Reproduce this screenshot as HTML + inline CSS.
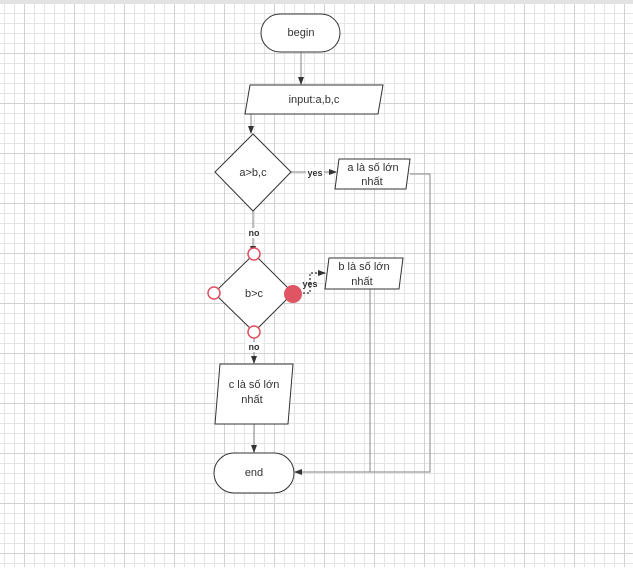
<!DOCTYPE html>
<html><head><style>
body{margin:0;width:633px;height:567px;overflow:hidden;background:#fff;font-family:"Liberation Sans",sans-serif;}
</style></head><body>
<svg width="633" height="567" xmlns="http://www.w3.org/2000/svg" font-family="Liberation Sans, sans-serif">
<defs>
<pattern id="g" x="4" y="3" width="10" height="10" patternUnits="userSpaceOnUse"><path d="M0 0.5H10M0.5 0V10" stroke="#e4e4e4" stroke-width="1" fill="none"/></pattern>
<pattern id="G" x="24" y="3" width="50" height="50" patternUnits="userSpaceOnUse"><path d="M0 0.5H50M0.5 0V50" stroke="#d2d2d2" stroke-width="1" fill="none"/></pattern>
<marker id="a" markerWidth="8" markerHeight="8" refX="7" refY="4" orient="auto" markerUnits="userSpaceOnUse"><path d="M0 1L8 4L0 7Z" fill="#333"/></marker>
</defs>
<rect width="633" height="567" fill="url(#g)"/>
<rect width="633" height="567" fill="url(#G)"/>
<rect width="633" height="4" fill="#e2e2e2"/>
<g stroke="#999" stroke-width="1.2" fill="none">
<path d="M301 52V84" marker-end="url(#a)"/>
<path d="M251 114V133" marker-end="url(#a)"/>
<path d="M291 172H336" marker-end="url(#a)"/>
<path d="M253 211V253" marker-end="url(#a)"/>
<path d="M410 174H430V472H295" marker-end="url(#a)"/>
<path d="M370 289V472"/>
<path d="M254 332V363" marker-end="url(#a)"/>
<path d="M254 424V452" marker-end="url(#a)"/>
<path d="M303 293H310V273H325" stroke-dasharray="2,2" stroke="#333" marker-end="url(#a)"/>
</g>
<g stroke="#333" stroke-width="1" fill="#fff">
<rect x="261" y="14" width="79" height="38" rx="19"/>
<path d="M250 85H383L378 114H245Z"/>
<path d="M253 134L291 172L253 211L215 172Z"/>
<path d="M339 159H410L406 189H335Z"/>
<path d="M254 254L293 293L254 332L214 293Z"/>
<path d="M329 258H403L399 289H325Z"/>
<path d="M220 364H293L288 424H215Z"/>
<rect x="214" y="453" width="80" height="40" rx="20"/>
</g>
<g stroke="#e05060" stroke-width="1.5" fill="#fff">
<circle cx="254" cy="254" r="6"/><circle cx="214" cy="293" r="6"/><circle cx="254" cy="332" r="6"/>
</g>
<circle cx="293" cy="294" r="9" fill="#e05563"/>
<g font-size="11" fill="#333" text-anchor="middle">
<text x="301" y="36">begin</text>
<text x="314" y="103">input:a,b,c</text>
<text x="253" y="176">a&gt;b,c</text>
<text x="373" y="171">a là số lớn</text><text x="372" y="185">nhất</text>
<text x="254" y="297">b&gt;c</text>
<text x="364" y="270">b là số lớn</text><text x="362" y="285">nhất</text>
<text x="254" y="388">c là số lớn</text><text x="252" y="403">nhất</text>
<text x="254" y="476">end</text>
</g>
<g font-size="9" font-weight="bold" fill="#333" text-anchor="middle">
<rect x="306" y="167" width="18" height="10" fill="#fff"/><text x="315" y="176">yes</text>
<rect x="246" y="228" width="16" height="10" fill="#fff"/><text x="254" y="236">no</text>
<text x="310" y="287">yes</text>
<rect x="246" y="342" width="16" height="10" fill="#fff"/><text x="254" y="350">no</text>
</g>
</svg>
</body></html>
